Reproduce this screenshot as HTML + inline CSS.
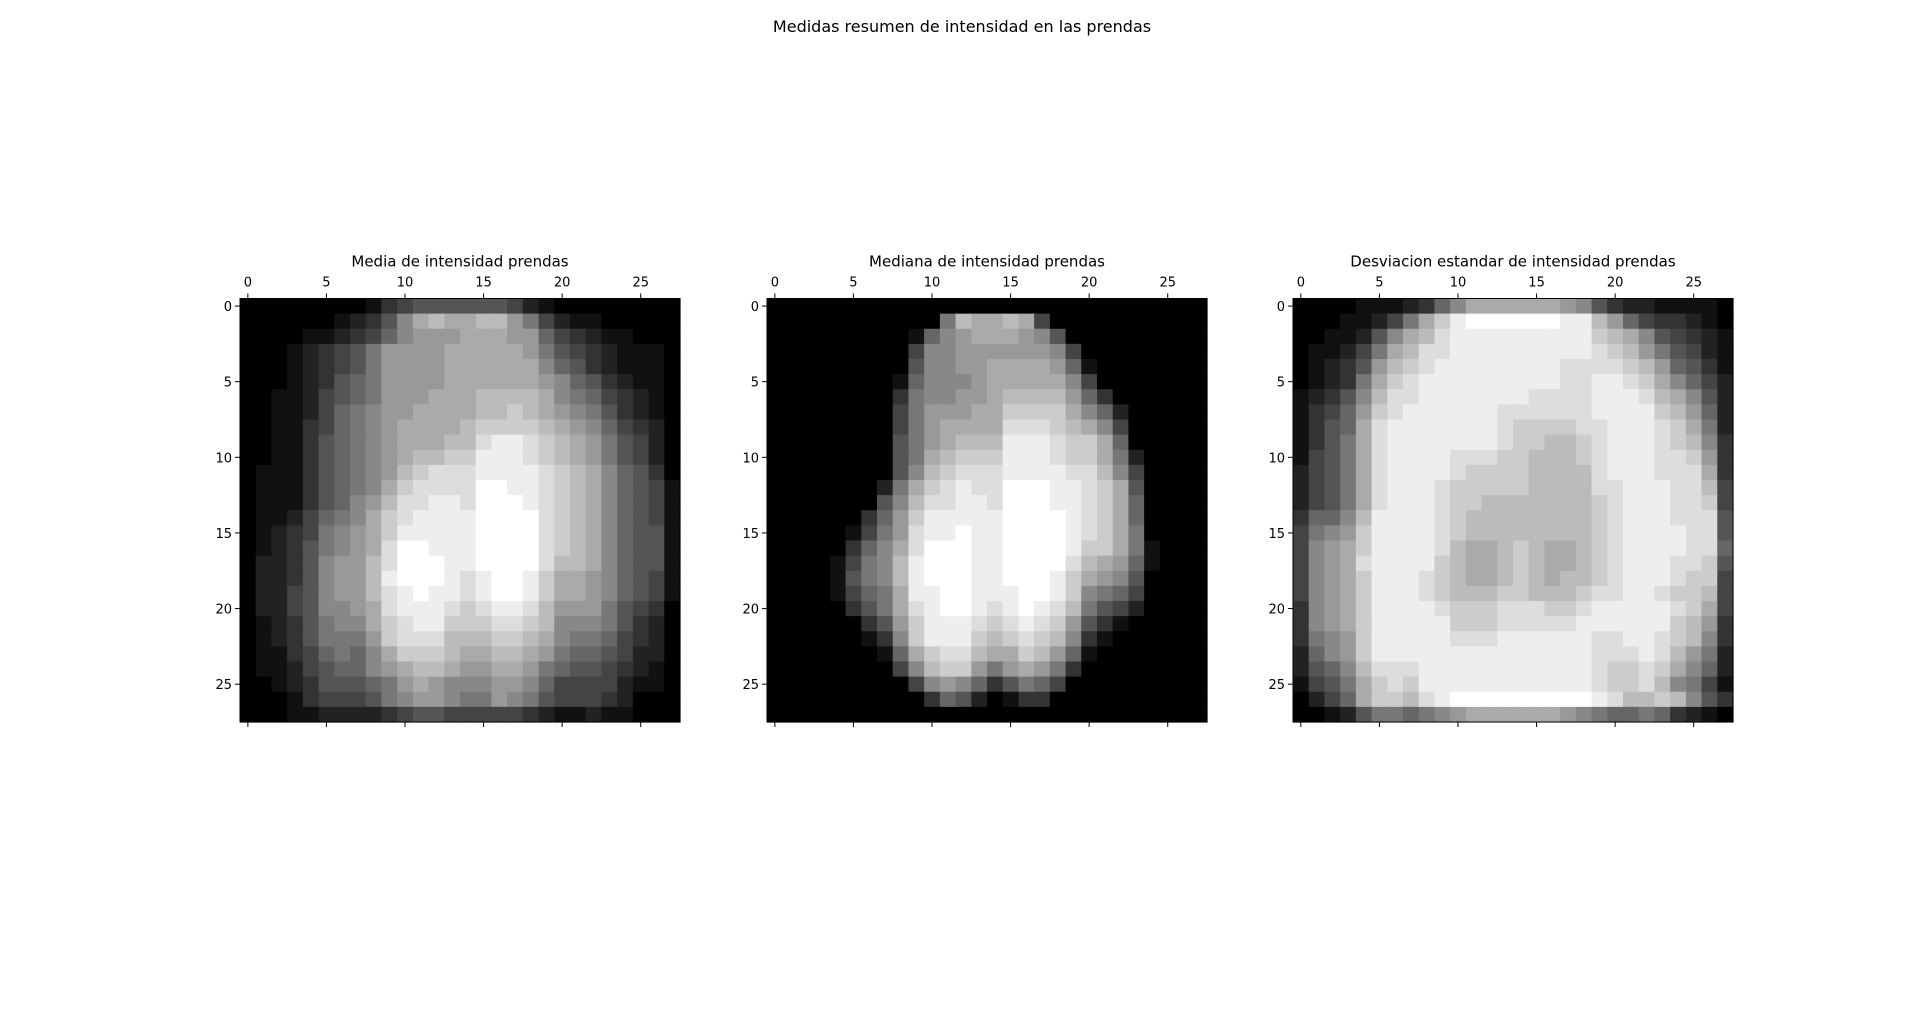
<!DOCTYPE html>
<html><head><meta charset="utf-8">
<style>
html,body{margin:0;padding:0;background:#fff;}
body{width:1923px;height:1027px;overflow:hidden;font-family:"Liberation Sans","DejaVu Sans",sans-serif;}
svg text{font-family:"DejaVu Sans","Liberation Sans",sans-serif;fill:#000;}
</style></head>
<body>
<svg id="fig" width="1923" height="1027" viewBox="0 0 1923 1027" xmlns="http://www.w3.org/2000/svg">
<rect width="1923" height="1027" fill="#fff"/>
<text x="962" y="32" font-size="16" text-anchor="middle">Medidas resumen de intensidad en las prendas</text>
</svg>
<script>
const tickValues = [0,5,10,15,20,25];
const titles = ["Media de intensidad prendas","Mediana de intensidad prendas","Desviacion estandar de intensidad prendas"];
const meanRows = [
"0000000013455555542100000000",
"00000012358abaabb97421100000",
"00001123468999aaa99643211000",
"0001234579999aaaaa9754321110",
"0001234579999aaaaaa865321110",
"0001235679999aaaaaa986532110",
"001124567999aaabbbba87643210",
"00112467899aaaabbcba98753210",
"0011346789aaaabccccba9864320",
"0011356789aaabbdeedcba975420",
"0011356789abbcceeedcba975420",
"0111356789bcdddeeeedcba86530",
"011135678acddddffeedcba86541",
"011135689bddeedfffedcba86541",
"01124678acdeeeeffffdcba86541",
"01234789aceeeeeffffdcba86551",
"01235789adffeeeffffdcba86551",
"02235899bdfffeeffffdbba86551",
"02235899befffedeffecaa986541",
"02245899bdefeedeffecaa986541",
"02245889adeeedcdeedb99975430",
"01235788acdeecccddcb88875320",
"012357779cdddbbbccba87764320",
"011346768acccbaabba976654220",
"0112456689abba99aa9765543210",
"00123555679a9888998644442110",
"0001344457899877987544432000",
"0001122223455444443211211000"
];
const medianRows = [
"0000000000000000000000000000",
"000000000007baaba40000000000",
"0000000001689aaa985000000000",
"0000000004889999998400000000",
"00000000058899aaaa9610000000",
"00000000168889aaaaa840000000",
"00000000378899abbbb963000000",
"0000000047999aacccca86200000",
"00000000479aaaadddcba8400000",
"00000000579abbbeeedcca600000",
"0000000057abccceeedcca720000",
"0000000058bcdddeeeeddb840000",
"000000027acdeddfffeedca50000",
"000000058bddeedfffeedca60000",
"000000369ceeeeeffffedca60000",
"000001479deefeeffffedca70000",
"00000368adfffeeffffecca71000",
"00001478befffeeffffdba961000",
"00001578befffeefffeca9850000",
"00001467aeeffeeeffec87640000",
"00000357adeffedefedb75420000",
"000000359ceeedcdedc953100000",
"000000138ceeecbcdcb831000000",
"000000016acddbaacb9610000000",
"0000000048bcc979a97300000000",
"0000000004898635764000000000",
"0000000000365201330000000000",
"0000000000000000000000000000"
];
const stdRows = [
"00001112368aaaaaa98532211110",
"00011247aceffffffeeb96433210",
"0011258abdeeeeeeeeecba854321",
"011247abddeeeeeeeeedcb975421",
"012359bcdeeeeeeeeddddcb96531",
"01237acdeeeeeeeeeddeedca8642",
"12358bddeeeeeeeddddeeedba852",
"13469cdeeeeeeddddddeeeecb962",
"1356adeeeeeeedccccddeeedca72",
"1357adeeeeeeedccbbcdeeedcb83",
"1457adeeeedddccbbbcdeeeddc93",
"2457adeeeedccccbbbbdeeeddda3",
"2457adeeedcccccbbbbddeeeddb4",
"2457adeeedccbbbbbbbcdeeeddc4",
"3668beeeedcbbbbbbbbcdeeeddd5",
"4789ceeeedcbbbbbbbbcdeeeedd5",
"489aceeeedbaabcbaabcdeeeedd6",
"489adeeeecbaabcbaabcdeeeddc5",
"489aceeedcbaabcbabbcdeeedcc4",
"489aceeedcbbbccbbbcddeedccb4",
"389aceeeedcccdddccdeeeeedca4",
"389aceeeeecccdddddeeeeeecb93",
"3789ceeeeedddeeeeeeddeedcb83",
"2689ceeeeeeeeeeeeeedddedb972",
"2568bdddeeeeeeeeeeedccdca862",
"1457acdceeeeeeeeeeedccdb8741",
"0246accbdefffffffffedbbcb8531",
"00125776789aaaaaa98766763210"
];
const matrices = [meanRows, medianRows, stdRows];
</script>
<script>
const NS = "http://www.w3.org/2000/svg";
const svg = document.getElementById('fig');
const axLefts = [240, 767, 1293];
const axTop = 298.5, axW = 440, axH = 423.5, N = 28;
const slugs = ['mean','median','std'];
function mk(tag, attrs){ const e = document.createElementNS(NS, tag); for (const k in attrs) e.setAttribute(k, attrs[k]); return e; }
function parseRow(s){ s = s.replace(/\s/g,''); const out=[]; for(let i=0;i<N;i++){ const c = s[i]; out.push(c===undefined?0:parseInt(c,16)); } return out; }
matrices.forEach((rows, p) => {
  const L = axLefts[p];
  const xs = i => L + i * axW / N;
  const ys = j => axTop + j * axH / N;
  const g = mk('g', {});
  
  
  svg.appendChild(g);
  rows.forEach((row, j) => {
    const vals = parseRow(row);
    vals.forEach((v, i) => {
      const gv = v * 17;
      const r = mk('rect', {x: xs(i).toFixed(2), y: ys(j).toFixed(2), width: (axW/N+0.6).toFixed(2), height: (axH/N+0.6).toFixed(2), fill: `rgb(${gv},${gv},${gv})`});
      
      
      g.appendChild(r);
    });
  });
  const frame = mk('rect', {x: L, y: axTop, width: axW, height: axH, fill: 'none', stroke: '#000', 'stroke-width': 1});
  
  
  g.appendChild(frame);
  const t = mk('text', {x: L + axW/2, y: axTop - 32, 'font-size': 15, 'text-anchor': 'middle'});
  t.textContent = titles[p];
  
  
  g.appendChild(t);
  tickValues.forEach(v => {
    const cx = xs(v + 0.5), cy = ys(v + 0.5);
    g.appendChild(mk('line', {x1: cx, x2: cx, y1: axTop - 5, y2: axTop, stroke: '#000', 'stroke-width': 1}));
    g.appendChild(mk('line', {x1: cx, x2: cx, y1: axTop + axH, y2: axTop + axH + 5, stroke: '#000', 'stroke-width': 1}));
    g.appendChild(mk('line', {x1: L - 5, x2: L, y1: cy, y2: cy, stroke: '#000', 'stroke-width': 1}));
    const tx = mk('text', {x: cx, y: axTop - 12, 'font-size': 13, 'text-anchor': 'middle'});
    tx.textContent = v;
    
    
    g.appendChild(tx);
    const ty = mk('text', {x: L - 8, y: cy + 5, 'font-size': 13, 'text-anchor': 'end'});
    ty.textContent = v;
    
    
    g.appendChild(ty);
  });
});
</script>
</body></html>
